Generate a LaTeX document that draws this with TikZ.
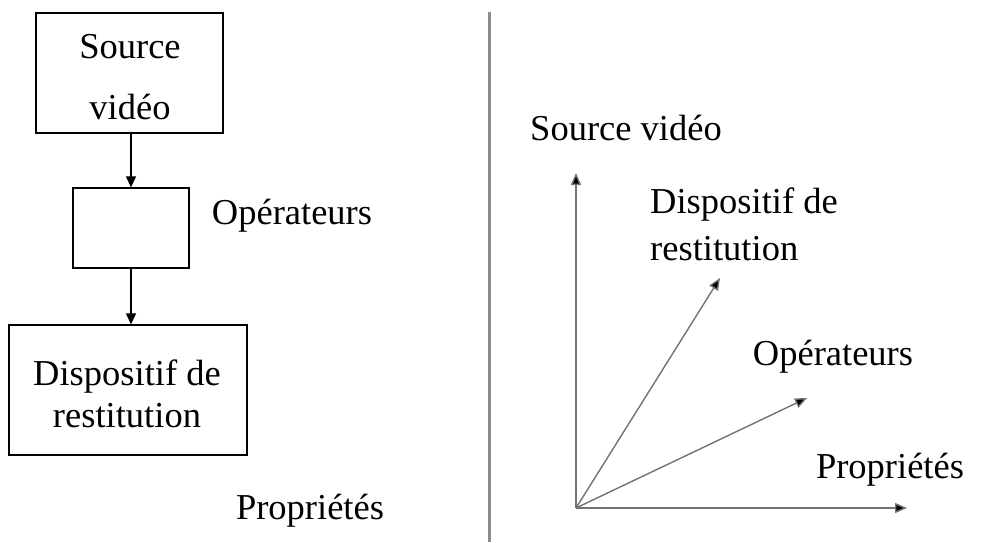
\documentclass[tikz,border=0pt]{standalone}
\usepackage{fontspec}
\setmainfont{Liberation Serif}
\usetikzlibrary{arrows.meta}
\begin{document}
\begin{tikzpicture}[x=1pt,y=-1pt,
  lbl/.style={inner sep=0pt,font=\fontsize{36.5}{42}\selectfont,align=center},
  boxnode/.style={draw,line width=1.3pt,inner sep=0pt,align=center,font=\fontsize{36.5}{42}\selectfont},
  conn/.style={line width=1.2pt,-{Triangle[length=11pt,width=10pt]}},
  axis/.style={line width=1.4pt,draw=black!55,-{Triangle[length=12pt,width=10pt,fill=black]}}]
\useasboundingbox (0,0) rectangle (999,542);
% left column
\node[boxnode,minimum width=187pt,minimum height=120pt] (src) at (129.5,73) {};
\node[lbl] (srct) at (130,47) {Source};
\node[lbl] (srcb) at (130,107) {vidéo};
\node[boxnode,minimum width=116pt,minimum height=80pt] (op) at (131,228) {};
\node[boxnode,minimum width=238pt,minimum height=130pt] (disp) at (128,390) {};
\node[lbl,font=\fontsize{36.5}{42}\selectfont] (dispt) at (127,394) {Dispositif de\\restitution};
\node[lbl] (opl) at (292,216) {Opérateurs};
\node[lbl] (propl) at (310,511) {Propriétés};
\draw[conn] (src.south -| op) -- (op.north);
\draw[conn] (op.south) -- (op.south |- disp.north);
% divider
\coordinate (dtop) at (489,12);
\coordinate (dbot) at (489,542);
\draw[line width=3pt,draw=black!45] (dtop) -- (dbot);
% right: axes
\coordinate (O) at (576,508);
\coordinate (ytip) at (576,173);
\coordinate (xtip) at (907,508);
\coordinate (dtip) at (720,278);
\coordinate (otip) at (807,398);
\draw[axis] (O) -- (ytip);
\draw[axis] (O) -- (xtip);
\draw[axis] (O) -- (dtip);
\draw[axis] (O) -- (otip);
\node[lbl] (srcr) at (626,128) {Source vidéo};
\node[lbl,align=left,font=\fontsize{36.5}{47}\selectfont] (dispr) at (744,224) {Dispositif de\\restitution};
\node[lbl] (opr) at (833,357) {Opérateurs};
\node[lbl] (propr) at (890,470) {Propriétés};
\end{tikzpicture}
\end{document}
